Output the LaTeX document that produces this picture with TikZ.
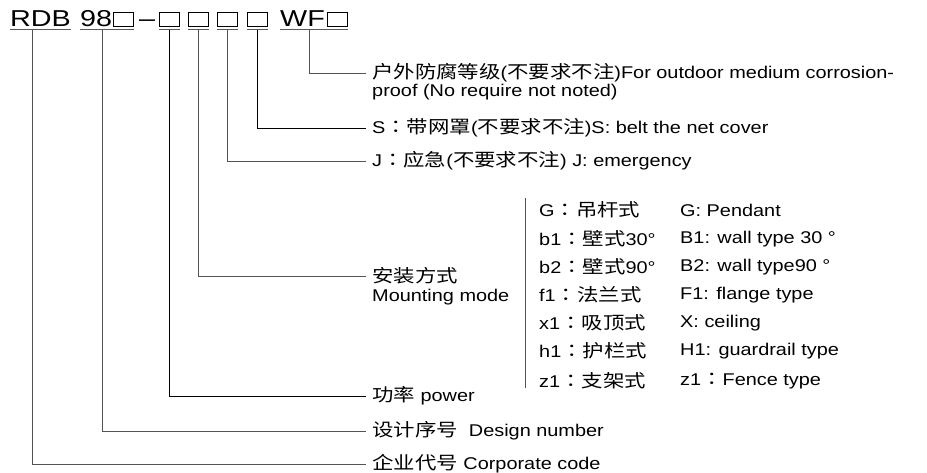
\documentclass[tikz,border=0pt]{standalone}
\usepackage{fontspec}
\setmainfont{Liberation Sans}[FakeStretch=1.17]
\newfontfamily\hdfont{Liberation Sans}[FakeStretch=1.25]
\newfontfamily\cjk{Noto Sans CJK SC}[Scale=1.05,FakeStretch=1.2]
\newfontfamily\cjkc{Noto Sans CJK TC}[Scale=1.05,FakeStretch=1.2]
\usepackage{tikz}
\usetikzlibrary{positioning}

\tikzset{
  code/.style={inner sep=0pt, anchor=base west, font=\hdfont\fontsize{23}{28}\selectfont},
  slot/.style={draw, line width=1pt, minimum width=20pt, minimum height=14.5pt, inner sep=0pt},
  uline/.style={draw=gray!70!black, line width=1.3pt},
  lead/.style={line width=0.9pt},
  leadg/.style={lead, draw=gray!65!black},
  lbl/.style={anchor=west, inner xsep=6pt, inner ysep=2pt, font=\fontsize{17}{19}\selectfont},
}
\newcommand{\cc}{{\cjkc ：}}

\begin{document}
\begin{tikzpicture}[x=1pt,y=-1pt]
            \useasboundingbox (0,0) rectangle (927,472);
            \node[code](rdb) at (10,26) {RDB};
            \node[code](nine) at (80,26) {98};
            \node[slot](s0) at (123,19.5) {};
            \node[code](dash) at (139,26) {–};
            \node[slot](s1) at (169.5,19.5) {};
            \node[slot](s2) at (198.5,19.5) {};
            \node[slot](s3) at (227.5,19.5) {};
            \node[slot](s4) at (257,19.5) {};
            \node[code](wf) at (280,26) {WF};
            \node[slot](s5) at (337.5,19.5) {};
            \coordinate (ul) at (0,29.5);
            \draw[uline] (rdb.west |- ul) -- (rdb.east |- ul);
            \draw[uline] (nine.west |- ul) -- (s0.east |- ul);
            \draw[uline] (s1.west |- ul) -- (s1.east |- ul);
            \draw[uline] (s2.west |- ul) -- (s2.east |- ul);
            \draw[uline] (s3.west |- ul) -- (s3.east |- ul);
            \draw[uline] (s4.west |- ul) -- (s4.east |- ul);
            \draw[uline] (wf.west |- ul) -- (s5.east |- ul);

            \node[lbl](wfa) at (366,73) {{\cjk 户外防腐等级}({\cjk 不要求不注})For outdoor medium corrosion-};
            \node[lbl](wfb) at (366,92) {proof (No require not noted)};
            \node[lbl](sc) at (366,128) {S\cc{\cjk 带网罩}({\cjk 不要求不注})S: belt the net cover};
            \node[lbl](jc) at (366,161) {J\cc{\cjk 应急}({\cjk 不要求不注}) J: emergency};
            \node[lbl](mnt) at (366,276) {{\cjk 安装方式}};
            \node[lbl](mnte) at (366,297) {Mounting mode};
            \node[lbl](pw) at (366,396) {{\cjk 功率} power};
            \node[lbl](dsn) at (366,431) {{\cjk 设计序号}\ \ Design number};
            \node[lbl](corp) at (366,464) {{\cjk 企业代号} Corporate code};

            \coordinate (bt) at (525,198);
            \coordinate (bb) at (525,388);
            \draw[leadg] (bt) -- (bb);
            \node[lbl](g) at (533,210) {G\cc{\cjk 吊杆式}};
            \node[lbl](ba) at (533,239) {b1\cc{\cjk 壁式}30°};
            \node[lbl](bc) at (533,267) {b2\cc{\cjk 壁式}90°};
            \node[lbl](f) at (533,295) {f1\cc{\cjk 法兰式}};
            \node[lbl](xa) at (533,323) {x1\cc{\cjk 吸顶式}};
            \node[lbl](h) at (533,351) {h1\cc{\cjk 护栏式}};
            \node[lbl](z) at (533,381) {z1\cc{\cjk 支架式}};
            \node[lbl](ge) at (674,210) {G: Pendant};
            \node[lbl](bae) at (674,239) {B1: wall type 30 °};
            \node[lbl](bce) at (674,267) {B2: wall type90 °};
            \node[lbl](fe) at (674,295) {F1: flange type};
            \node[lbl](xe) at (674,323) {X: ceiling};
            \node[lbl](he) at (674,351) {H1: guardrail type};
            \node[lbl](ze) at (674,381) {z1\cc Fence type};

            \draw[leadg] (wf.west |- ul) ++(29,0) |- (wfa.west);
            \draw[lead] (s4 |- ul) |- (sc.west);
            \draw[leadg] (s3 |- ul) |- (jc.west);
            \draw[leadg] (s2 |- ul) |- (mnt.west);
            \draw[lead] (s1 |- ul) |- (pw.west);
            \draw[leadg] (nine.west |- ul) ++(22,0) |- (dsn.west);
            \draw[leadg] (rdb.west |- ul) ++(22,0) |- (corp.west);
        \end{tikzpicture}
\end{document}
